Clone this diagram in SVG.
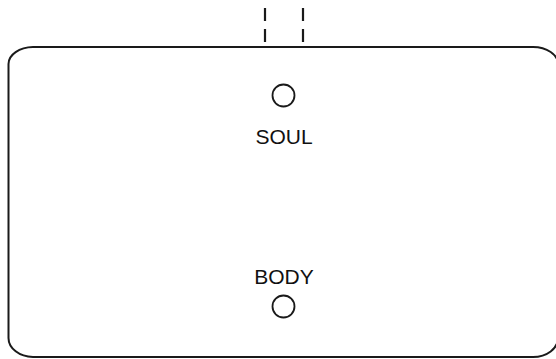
<svg xmlns="http://www.w3.org/2000/svg" width="556" height="359" viewBox="0 0 556 359">
<style>
.line{fill:none;stroke:#1a1a1a;stroke-width:2}
.dash{fill:none;stroke:#1a1a1a;stroke-width:2.2;stroke-dasharray:13 8}
.node{fill:#fff;stroke:#1a1a1a;stroke-width:1.8}
.lbl{font-family:"Liberation Sans",Arial,sans-serif;font-size:21px;fill:#111;text-anchor:middle}
</style>
<rect width="556" height="359" fill="#fff"/>
<g id="frame">
<path class="line" d="M33 47 H533 A25 17 0 0 1 558 64 V338 A25 19 0 0 1 533 357 H33 A25 19 0 0 1 8.5 338 V64 A25 17 0 0 1 33 47 Z"/>
</g>
<g id="connectors">
<line class="dash" x1="265" y1="8" x2="265" y2="46"/>
<line class="dash" x1="303" y1="8" x2="303" y2="46"/>
</g>
<g id="soul">
<circle class="node" cx="283.5" cy="95.5" r="11"/>
<text class="lbl" x="284" y="144">SOUL</text>
</g>
<g id="body">
<text class="lbl" x="284" y="284">BODY</text>
<circle class="node" cx="283.5" cy="306.5" r="11"/>
</g>
</svg>
